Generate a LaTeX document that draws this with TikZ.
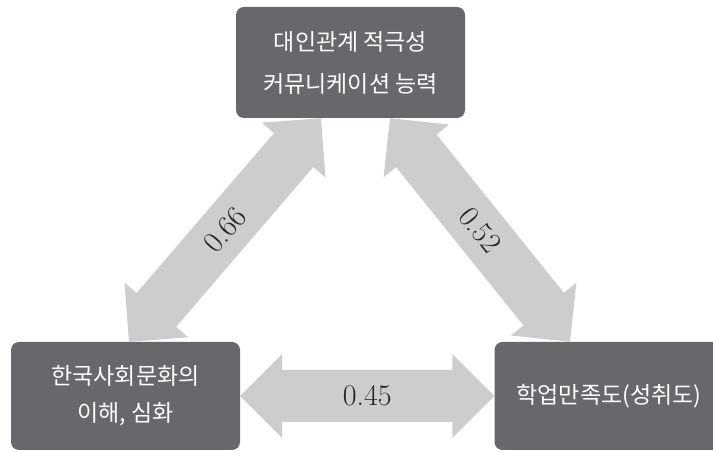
\documentclass[tikz,border=0pt]{standalone}
\usepackage{fontspec}
\newfontfamily\krfont{Noto Sans CJK KR}
\usetikzlibrary{calc,backgrounds}
\definecolor{boxgray}{RGB}{103,104,108}
\definecolor{arrowgray}{RGB}{204,205,207}

\begin{document}
\begin{tikzpicture}[x=1pt,y=1pt,
    box/.style={fill=boxgray, text=white, rounded corners=8pt, minimum width=229pt,
      inner sep=0pt, align=center},
    coef/.style={font=\fontsize{30}{30}\selectfont, text=black!85}]
  \clip (0,0) rectangle (713,452);
  % boxes
  \node[box, minimum height=111pt, font=\krfont\fontsize{23}{42}\selectfont] (top) at (350.5,389.5)
    {대인관계 적극성\\커뮤니케이션 능력};
  \node[box, minimum height=108pt, font=\krfont\fontsize{23}{37}\selectfont] (bl) at (125.5,56)
    {한국사회문화의\\이해, 심화};
  \node[box, minimum height=108pt, font=\krfont\fontsize{23}{37}\selectfont] (br) at (609,56)
    {학업만족도(성취도)};
  % arrow ends
  \coordinate (p1) at ([xshift=3.5pt]bl.north);
  \coordinate (p2) at ([xshift=-29.5pt]top.south);
  \coordinate (p3) at ([xshift=39.5pt]top.south);
  \coordinate (p4) at ([xshift=-39pt]br.north);
  % double arrows behind the boxes
  \begin{scope}[on background layer]
    \foreach \a/\b/\val in {p1/p2/0.66, p3/p4/0.52, bl.east/br.west/0.45}{
      \fill[arrowgray] (\a)
        -- ($(\a)!42pt!(\b)!42pt!90:(\b)$) -- ($(\a)!42pt!(\b)!26pt!90:(\b)$)
        -- ($(\b)!42pt!(\a)!26pt!-90:(\a)$) -- ($(\b)!42pt!(\a)!42pt!-90:(\a)$)
        -- (\b)
        -- ($(\b)!42pt!(\a)!42pt!90:(\a)$) -- ($(\b)!42pt!(\a)!26pt!90:(\a)$)
        -- ($(\a)!42pt!(\b)!26pt!-90:(\b)$) -- ($(\a)!42pt!(\b)!42pt!-90:(\b)$)
        -- cycle;
      \path (\a) -- (\b) node[midway, sloped, coef] {\val};
    }
  \end{scope}
\end{tikzpicture}
\end{document}
